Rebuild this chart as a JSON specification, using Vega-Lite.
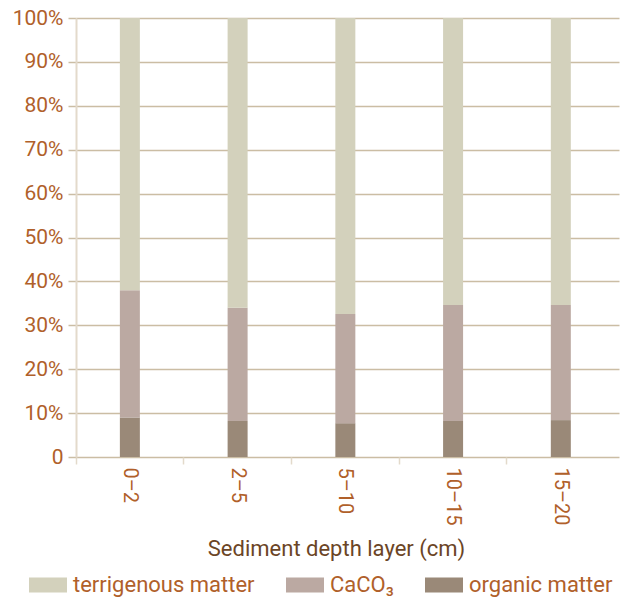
{
  "$schema": "https://vega.github.io/schema/vega-lite/v6.json",
  "width": 543,
  "height": 439,
  "autosize": {"type": "none"},
  "padding": {"left": 76, "top": 18, "right": 2, "bottom": 140},
  "background": "white",
  "data": {
    "values": [
      {"layer": "0–2", "component": "organic matter", "value": 9.0},
      {"layer": "0–2", "component": "CaCO₃", "value": 29.0},
      {"layer": "0–2", "component": "terrigenous matter", "value": 62.0},
      {"layer": "2–5", "component": "organic matter", "value": 8.2},
      {"layer": "2–5", "component": "CaCO₃", "value": 25.8},
      {"layer": "2–5", "component": "terrigenous matter", "value": 66.0},
      {"layer": "5–10", "component": "organic matter", "value": 7.7},
      {"layer": "5–10", "component": "CaCO₃", "value": 24.9},
      {"layer": "5–10", "component": "terrigenous matter", "value": 67.4},
      {"layer": "10–15", "component": "organic matter", "value": 8.2},
      {"layer": "10–15", "component": "CaCO₃", "value": 26.4},
      {"layer": "10–15", "component": "terrigenous matter", "value": 65.4},
      {"layer": "15–20", "component": "organic matter", "value": 8.4},
      {"layer": "15–20", "component": "CaCO₃", "value": 26.2},
      {"layer": "15–20", "component": "terrigenous matter", "value": 65.4}
    ]
  },
  "transform": [
    {"calculate": "indexof(['organic matter','CaCO₃','terrigenous matter'], datum.component)", "as": "ord"}
  ],
  "mark": {"type": "bar", "size": 20},
  "encoding": {
    "x": {
      "field": "layer",
      "type": "nominal",
      "sort": ["0–2", "2–5", "5–10", "10–15", "15–20"],
      "scale": {"paddingInner": 0, "paddingOuter": 0.02, "align": 0},
      "axis": {
        "title": "Sediment depth layer (cm)",
        "titleFont": "Roboto",
        "titleFontSize": 22,
        "titleFontWeight": "normal",
        "titleColor": "#6b4526",
        "titlePadding": 13,
        "titleX": 260,
        "titleAlign": "center",
        "labelAngle": 90,
        "labelAlign": "left",
        "labelBaseline": "middle",
        "labelFont": "Roboto",
        "labelFontSize": 20,
        "labelColor": "#b0602a",
        "labelPadding": 3,
        "bandPosition": 0,
        "tickColor": "#e3dacb",
        "tickSize": 7,
        "tickWidth": 1.5,
        "domain": false,
        "grid": false
      }
    },
    "y": {
      "field": "value",
      "type": "quantitative",
      "stack": "normalize",
      "scale": {"domain": [0, 1]},
      "axis": {
        "title": null,
        "values": [0, 0.1, 0.2, 0.3, 0.4, 0.5, 0.6, 0.7, 0.8, 0.9, 1],
        "labelExpr": "datum.value == 0 ? '0' : format(datum.value, '.0%')",
        "labelFont": "Roboto",
        "labelFontSize": 21,
        "labelColor": "#b0602a",
        "labelPadding": 5,
        "tickColor": "#cbbda4",
        "tickSize": 8,
        "tickWidth": 1.5,
        "gridColor": "#cbbda4",
        "gridWidth": 1.5,
        "domainColor": "#e3dacb",
        "domainWidth": 2
      }
    },
    "color": {
      "field": "component",
      "type": "nominal",
      "scale": {
        "domain": ["terrigenous matter", "CaCO₃", "organic matter"],
        "range": ["#d3d1bc", "#bba9a2", "#9a8978"]
      },
      "legend": {
        "title": null,
        "orient": "none",
        "direction": "horizontal",
        "legendX": -47,
        "legendY": 548,
        "symbolType": "M-1,-0.4H1V0.4H-1Z",
        "symbolSize": 1444,
        "symbolStrokeWidth": 0,
        "symbolOpacity": 1,
        "labelFont": "Roboto",
        "labelFontSize": 22,
        "labelColor": "#b0602a",
        "labelOffset": 6,
        "columnPadding": 31,
        "labelLimit": 300
      }
    },
    "order": {"field": "ord", "type": "quantitative"}
  },
  "config": {
    "view": {"stroke": null}
  }
}
